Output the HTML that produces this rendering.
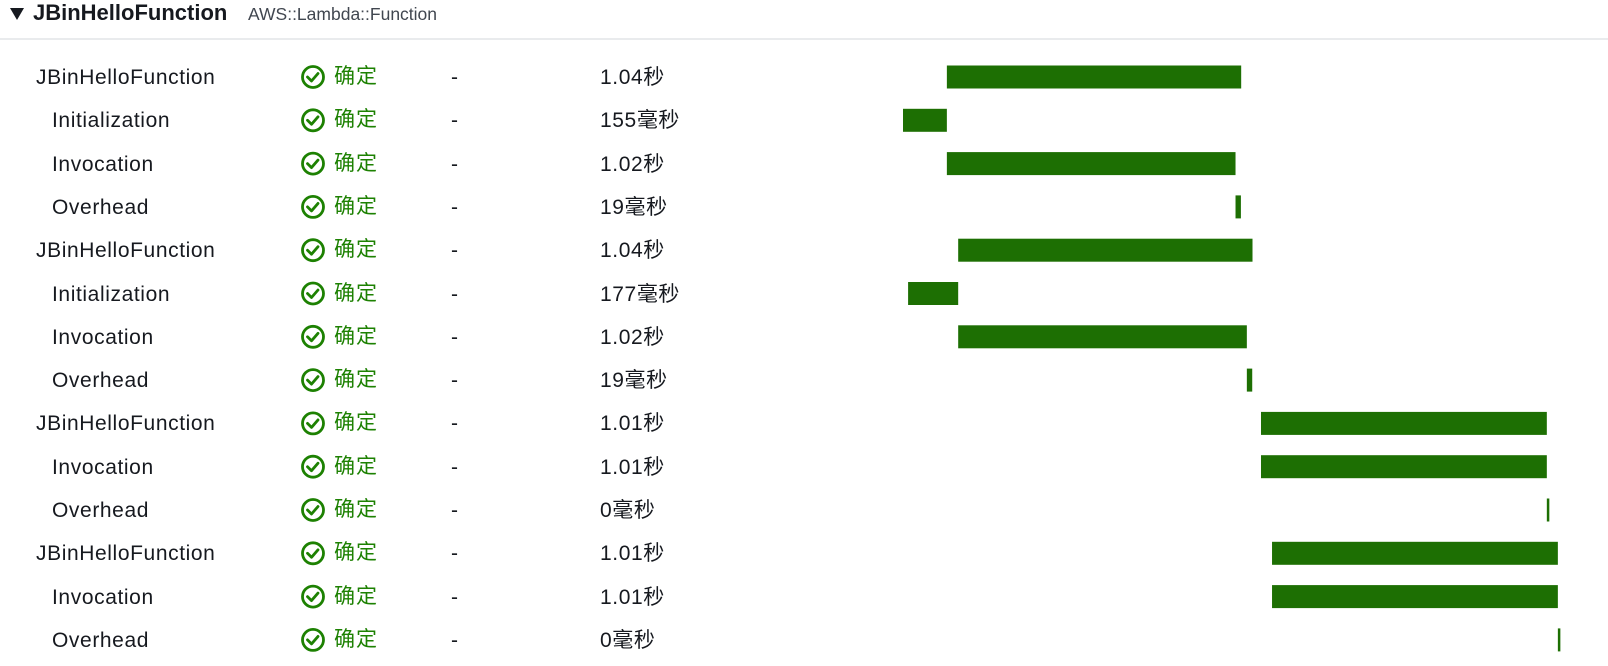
<!DOCTYPE html>
<html><head><meta charset="utf-8">
<style>
html,body{margin:0;padding:0;background:#fff;}
body{width:1608px;height:666px;position:relative;overflow:hidden;font-family:"Liberation Sans","Noto Sans CJK SC",sans-serif;color:#16191f;}
.hdr{position:absolute;left:0;top:0;width:1608px;height:38px;border-bottom:2px solid #e9ebed;}
.tri{position:absolute;left:10px;top:8px;width:0;height:0;border-left:7px solid transparent;border-right:7px solid transparent;border-top:12px solid #16191f;}
.ht{position:absolute;left:33px;top:0px;font-size:22px;font-weight:bold;}
.hs{position:absolute;left:248px;top:4px;font-size:17.5px;color:#414750;}
.cell{position:absolute;font-size:21px;letter-spacing:0.6px;line-height:26px;white-space:nowrap;}
.ok{color:#1d8102;font-size:21px;letter-spacing:1px;}
</style></head>
<body>
<div class="hdr">
  <div class="tri"></div>
  <div class="ht">JBinHelloFunction</div>
  <div class="hs">AWS::Lambda::Function</div>
</div>
<div id="rows"></div>
<svg id="chart" width="1608" height="666" style="position:absolute;left:0;top:0;pointer-events:none"></svg>
<script>
const names=["JBinHelloFunction","Initialization","Invocation","Overhead","JBinHelloFunction","Initialization","Invocation","Overhead","JBinHelloFunction","Invocation","Overhead","JBinHelloFunction","Invocation","Overhead"];
const indent=[0,1,1,1,0,1,1,1,0,1,1,0,1,1];
const durLabels=["1.04秒","155毫秒","1.02秒","19毫秒","1.04秒","177毫秒","1.02秒","19毫秒","1.01秒","1.01秒","0毫秒","1.01秒","1.01秒","0毫秒"];
const starts=[155,0,155,1175,195,18,195,1215,1265,1265,2275,1304,1304,2314];
const durs=[1040,155,1020,19,1040,177,1020,19,1010,1010,0,1010,1010,0];
const x0=903,pxPerMs=0.283,rowY0=77,rowStep=43.3,barH=23;
function xs(t){return x0+t*pxPerMs;}
function ys(i){return rowY0+i*rowStep;}
const rows=document.getElementById('rows');
const svg=document.getElementById('chart');
const NS="http://www.w3.org/2000/svg";
names.forEach((n,i)=>{
  const cy=ys(i);
  const a=document.createElement('div');a.className='cell';
  
  
  a.style.left=(indent[i]?52:36)+'px';a.style.top=(cy-12)+'px';a.textContent=n;rows.appendChild(a);
  const s=document.createElement('div');s.className='cell ok';
  
  
  s.style.left='334px';s.style.top=(cy-13)+'px';s.textContent='确定';rows.appendChild(s);
  const d=document.createElement('div');d.className='cell';
  
  
  d.style.left='451px';d.style.top=(cy-12)+'px';d.textContent='-';rows.appendChild(d);
  const du=document.createElement('div');du.className='cell';
  
  
  du.style.left='600px';du.style.top=(cy-12)+'px';du.textContent=durLabels[i];rows.appendChild(du);
  const g=document.createElementNS(NS,'g');
  
  
  const c=document.createElementNS(NS,'circle');
  c.setAttribute('cx',313);c.setAttribute('cy',cy);c.setAttribute('r',10.5);
  c.setAttribute('fill','none');c.setAttribute('stroke','#1d8102');c.setAttribute('stroke-width','2.8');
  g.appendChild(c);
  const p=document.createElementNS(NS,'path');
  p.setAttribute('d',`M307.5 ${cy} l4 4 l6.5 -7.5`);
  p.setAttribute('fill','none');p.setAttribute('stroke','#1d8102');p.setAttribute('stroke-width','2.8');
  p.setAttribute('stroke-linecap','round');p.setAttribute('stroke-linejoin','round');
  g.appendChild(p);svg.appendChild(g);
  const r=document.createElementNS(NS,'rect');
  
  
  const w=Math.max(2.5,durs[i]*pxPerMs);
  r.setAttribute('x',xs(starts[i]));r.setAttribute('y',cy-barH/2);
  r.setAttribute('width',w);r.setAttribute('height',barH);r.setAttribute('fill','#1d6f03');
  svg.appendChild(r);
});
</script>
</body></html>
